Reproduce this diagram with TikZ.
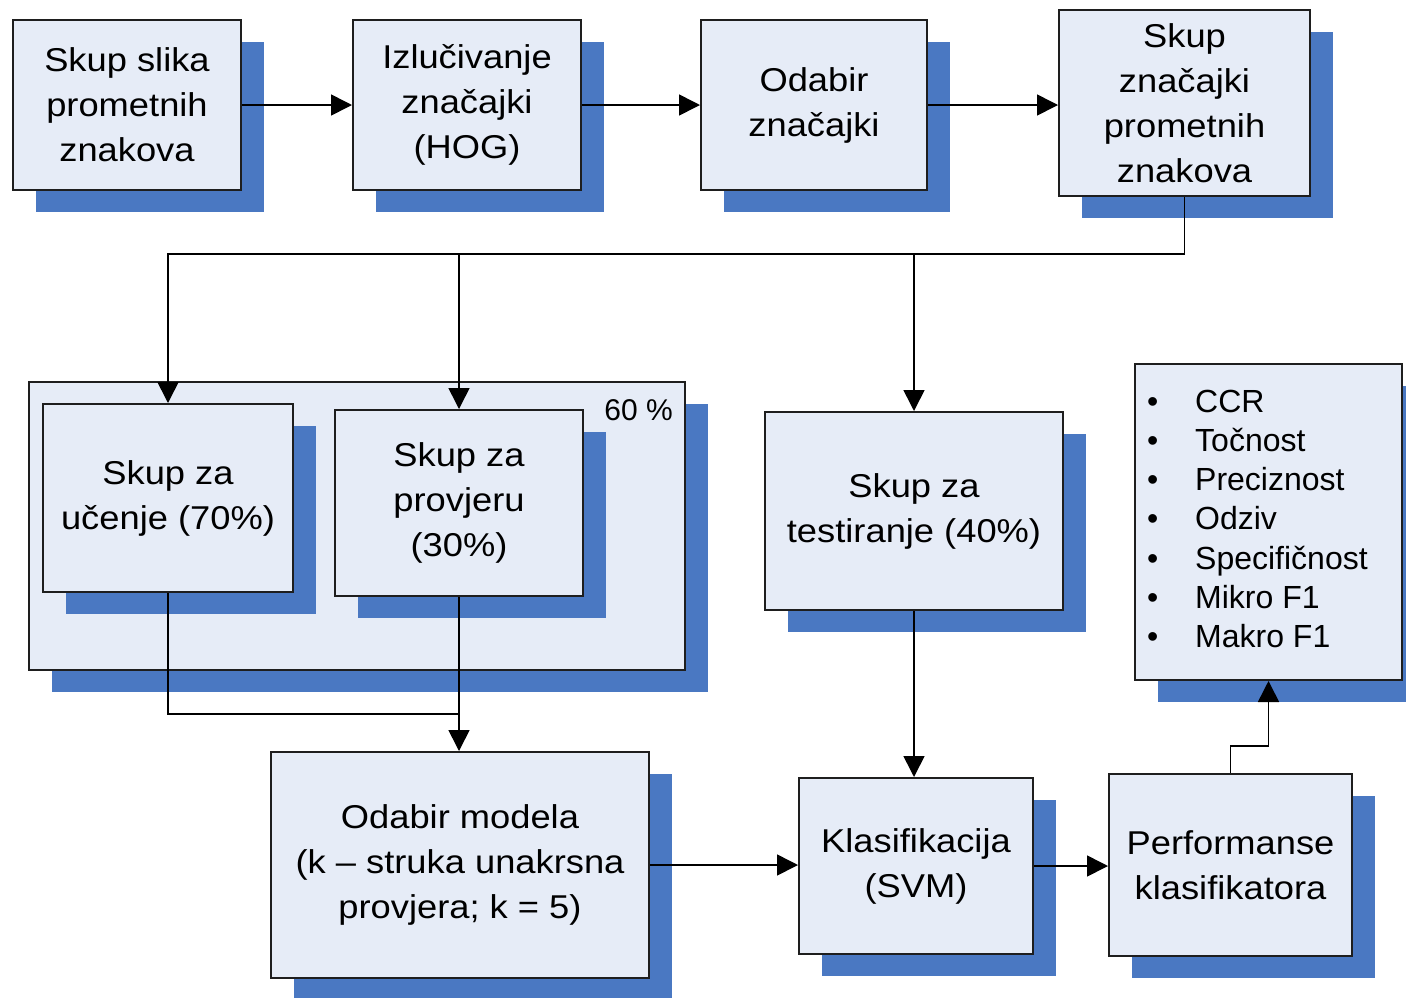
\documentclass[tikz,border=0pt]{standalone}
\usepackage{fontspec}
\setmainfont{Liberation Sans}[FakeStretch=1.1]
\newfontfamily\listfont{Liberation Sans}[FakeStretch=1.0]
\usetikzlibrary{arrows.meta,shadows}
\definecolor{shadowblue}{HTML}{4A78C2}
\definecolor{boxfill}{HTML}{E6ECF7}
\definecolor{boxline}{HTML}{1E1E1E}
\begin{document}
\begin{tikzpicture}[x=1pt,y=-1pt,
  blk/.style={draw=boxline, line width=2pt, fill=boxfill, inner sep=2pt, align=center,
    font=\fontsize{33}{45}\selectfont,
    drop shadow={shadow xshift=23pt, shadow yshift=-22pt, opacity=1, fill=shadowblue}},
  conn/.style={line width=1.6pt, draw=black},
  arr/.style={conn, -{Triangle[length=21pt,width=21pt]}},
  listtxt/.style={anchor=base west, inner sep=0pt, font=\listfont\fontsize{32}{38}\selectfont}]
\useasboundingbox (0,0) rectangle (1406,997);
\fill[white] (0,0) rectangle (1406,997);

% top row
\node[blk, minimum width=228pt, minimum height=170pt] (b1) at (127,105) {Skup slika\\prometnih\\znakova};
\node[blk, minimum width=228pt, minimum height=170pt] (b2) at (467,105) {Izlučivanje\\značajki\\(HOG)};
\node[blk, minimum width=226pt, minimum height=170pt] (b3) at (814,105) {Odabir\\značajki};
\node[blk, minimum width=251pt, minimum height=186pt] (b4) at (1184.5,103) {Skup\\značajki\\prometnih\\znakova};

% group box
\node[blk, minimum width=656pt, minimum height=288pt] (group) at (357,526) {};
\node[anchor=base east, inner sep=0pt, font=\listfont\fontsize{30}{35}\selectfont] (pct) at (673,420) {60 \%};

\node[blk, minimum width=250pt, minimum height=188pt] (ucenje) at (168,498) {Skup za\\učenje (70\%)};
\node[blk, minimum width=248pt, minimum height=186pt] (provjera) at (459,503) {Skup za\\provjeru\\(30\%)};
\node[blk, minimum width=298pt, minimum height=198pt] (test) at (914,511) {Skup za\\testiranje (40\%)};

% metrics
\node[blk, minimum width=267pt, minimum height=316pt] (metrics) at (1268.5,522) {};
\foreach \t [count=\i from 0] in {CCR,Točnost,Preciznost,Odziv,Specifičnost,Mikro F1,Makro F1}
  \node[listtxt] (m\i) at (1147,{412+39.3*\i}) {\makebox[48pt][l]{•}\t};

% bottom row
\node[blk, minimum width=378pt, minimum height=226pt] (odabir) at (460,865) {Odabir modela\\(k – struka unakrsna\\provjera; k = 5)};
\node[blk, minimum width=234pt, minimum height=176pt] (klas) at (916,866) {Klasifikacija\\(SVM)};
\node[blk, minimum width=243pt, minimum height=182pt] (perf) at (1230.5,865) {Performanse\\klasifikatora};

% connectors
\coordinate (bus) at (0,254);
\coordinate (join) at (0,714);
\coordinate (el) at (0,746);
\draw[arr] (b1.east) -- (b2.west);
\draw[arr] (b2.east) -- (b3.west);
\draw[arr] (b3.east) -- (b3.east -| b4.west);
\draw[arr] (b4.south) -- (b4.south |- bus) -| (ucenje.north);
\draw[arr] (bus -| provjera.north) -- (provjera.north);
\draw[arr] (bus -| test.north) -- (test.north);
\draw[conn] (ucenje.south) |- (join -| provjera.south);
\draw[arr] (provjera.south) -- (provjera.south |- odabir.north);
\draw[arr] (test.south) -- (test.south |- klas.north);
\draw[arr] (odabir.east) -- (odabir.east -| klas.west);
\draw[arr] (klas.east) -- (klas.east -| perf.west);
\draw[arr] (perf.north) -- (perf.north |- el) -| (metrics.south);
\end{tikzpicture}
\end{document}
